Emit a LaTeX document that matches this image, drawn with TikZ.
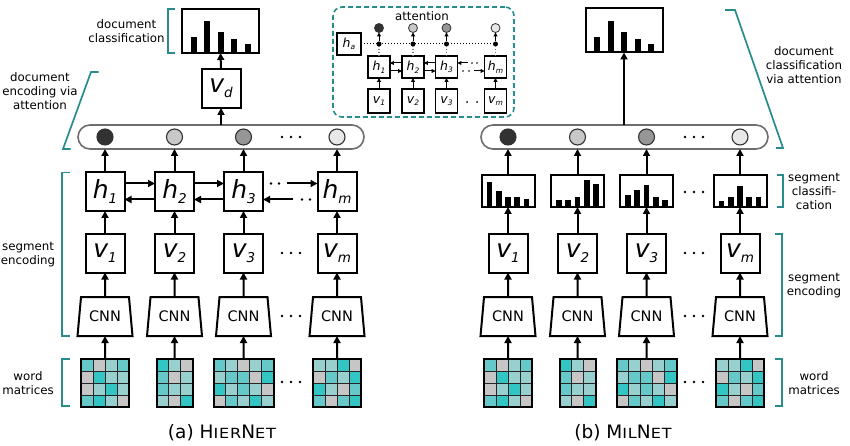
\documentclass[tikz,border=0pt]{standalone}
\usepackage{fontspec}
\setmainfont{DejaVu Sans}
\newfontfamily\capfont[FakeStretch=1.15,LetterSpace=6]{DejaVu Sans}
\usetikzlibrary{arrows.meta,shapes.geometric,calc}

\definecolor{tealB}{RGB}{40,140,140}
\definecolor{wT}{RGB}{51,196,196}
\definecolor{wM}{RGB}{102,200,200}
\definecolor{wL}{RGB}{152,208,208}
\definecolor{wG}{RGB}{198,198,198}
\definecolor{cDark}{RGB}{50,50,50}
\definecolor{cLight}{RGB}{200,200,200}
\definecolor{cMid}{RGB}{150,150,150}
\definecolor{cVLight}{RGB}{232,232,232}
\definecolor{pillgray}{RGB}{110,110,110}

\newcommand\hvlab[2]{{\fontsize{25}{25}\selectfont\itshape #1}\raisebox{-5pt}{\fontsize{13.5}{13.5}\selectfont\itshape #2}}
\newcommand\smlab[2]{{\fontsize{12.5}{12.5}\selectfont\itshape #1}\raisebox{-2.6pt}{\fontsize{7.5}{7.5}\selectfont\itshape #2}}
\newcommand\capsc[1]{{\capfont\fontsize{14}{14}\selectfont #1}}

\tikzset{
  every node/.style={inner sep=0pt, outer sep=0pt},
  bx/.style={draw, line width=2pt, fill=white, minimum width=39pt, minimum height=39pt},
  cnnbox/.style={draw, line width=2pt, fill=white, trapezium, trapezium stretches=true,
     trapezium left angle=78, trapezium right angle=78, minimum width=55pt, minimum height=39pt,
     font=\fontsize{14.5}{14.5}\selectfont},
  hist/.style={draw, line width=2pt, fill=white, minimum width=77pt, minimum height=44pt},
  seg/.style={draw, line width=2pt, fill=white, minimum width=53pt, minimum height=32pt},
  pill/.style={draw=pillgray, line width=1.6pt, fill=white, rounded corners=12pt, minimum height=24pt},
  circ/.style={circle, draw=black!80, line width=1.1pt, minimum size=16pt},
  arr/.style={line width=2pt, -{Triangle[length=7pt,width=7pt]}},
  brk/.style={draw=tealB, line width=1.7pt},
  lab/.style={align=center, font=\fontsize{11.8}{14}\selectfont},
  sbx/.style={draw, line width=1.3pt, fill=white, minimum width=22pt, minimum height=22pt},
  sarr/.style={line width=1pt, -{Triangle[length=3.8pt,width=3.8pt]}},
  scirc/.style={circle, draw=black!80, line width=0.8pt, minimum size=9pt},
  sdot/.style={circle, fill=black, minimum size=5pt},
}

% word matrix: name, centre x, number of columns, colours (row-major)
\newcommand\wordmat[4]{%
  \pgfmathsetmacro\wmleft{#2-#3*6}
  \foreach \c [count=\i from 0] in {#4}{
    \pgfmathtruncatemacro\wcol{mod(\i,#3)}
    \pgfmathtruncatemacro\wrow{int(\i/#3)}
    \filldraw[fill=\c, draw=black!85, line width=1pt] (\wmleft+\wcol*12, 359+\wrow*12) rectangle ++(12,12);
  }
  \node[draw, line width=2pt, minimum width=#3*12pt, minimum height=48pt] (#1) at (#2,383) {};
}
% bars: node, spacing, width, heights
\newcommand\bars[4]{%
  \foreach \hh [count=\k from -2] in {#4}
    \fill ($(#1.south)+(\k*#2-#3/2,-0.9)$) rectangle ++(#3,-\hh);
}
\newcommand\threedots[2]{\foreach \dx in {-9,0,9} \fill (#1+\dx,#2) circle (1.4);}

\begin{document}
\begin{tikzpicture}[x=1pt,y=-1pt]
\useasboundingbox (0,0) rectangle (850,446);

% ================= LEFT: HierNet =================
\node[pill, minimum width=286pt] (pillL) at (221,137) {};
\foreach \n/\x/\cc in {1/105/cDark,2/174.5/cLight,3/243.5/cMid,m/337/cVLight}{
  \node[bx] (h\n) at (\x,191.5) {\hvlab{h}{\n}};
  \node[bx] (v\n) at (\x,253) {\hvlab{v}{\n}};
  \node[cnnbox] (c\n) at (\x,316.5) {CNN};
  \node[circ, fill=\cc] (a\n) at (\x,137) {};
}
\wordmat{w1}{105}{4}{wM,wG,wL,wM, wG,wT,wL,wL, wG,wL,wT,wL, wM,wT,wL,wG}
\wordmat{w2}{174.5}{3}{wT,wL,wG, wM,wG,wL, wM,wL,wL, wL,wG,wT}
\wordmat{w3}{243.5}{5}{wM,wL,wG,wL,wM, wL,wM,wM,wG,wT, wT,wL,wM,wL,wG, wG,wM,wL,wT,wL}
\wordmat{wm}{337}{4}{wL,wL,wT,wG, wG,wM,wL,wT, wT,wL,wG,wM, wM,wG,wM,wT}

\foreach \n in {1,2,3,m}{
  \draw[arr] (w\n.north) -- (c\n.south);
  \draw[arr] (c\n.north) -- (v\n.south);
  \draw[arr] (v\n.north) -- (h\n.south);
  \draw[arr] (h\n.north) -- (h\n.north |- pillL.south);
}
\foreach \a/\b in {1/2,2/3}{
  \draw[arr] ([yshift=8pt]h\a.east) -- ([yshift=8pt]h\b.west);
  \draw[arr] ([yshift=-8pt]h\b.west) -- ([yshift=-8pt]h\a.east);
}
\coordinate (hu) at (287,183.5);
\coordinate (hl) at (293,199.5);
\draw[arr] (hu) -- (hm.west |- hu);
\draw[arr] (hl) -- (h3.east |- hl);
\fill (271,183.5) circle (1.3) (279,183.5) circle (1.3);
\fill (302,199.5) circle (1.3) (310,199.5) circle (1.3);

\threedots{291}{137}
\threedots{291}{253}
\threedots{291}{316}
\threedots{291}{382}

\node[bx] (vd) at (221,88.5) {\hvlab{v}{d}};
\node[hist] (hL) at (220.5,31) {};
\bars{hL}{13.5}{6}{15,31,20,13,8}
\draw[arr] (vd.south |- pillL.north) -- (vd.south);
\draw[arr] (vd.north) -- (hL.south);

% brackets and labels left
\draw[brk] (175,9) -- (168,9) -- (168,53) -- (175,53);
\draw[brk] (98.5,72) -- (91,72) -- (63,149) -- (70.5,149);
\draw[brk] (70,172.5) -- (62,172.5) -- (62,336) -- (70,336);
\draw[brk] (70,359) -- (62,359) -- (62,406) -- (70,406);
\node[lab] (l1) at (126.5,31) {document\\classification};
\node[lab] (l2) at (40,91) {document\\encoding via\\attention};
\node[lab] (l3) at (28,254.5) {segment\\encoding};
\node[lab] (l4) at (28,383) {word\\matrices};

% ================= attention inset =================
\node[draw=tealB, line width=1.6pt, dash pattern=on 5pt off 3pt, rounded corners=9pt,
      minimum width=181pt, minimum height=110pt] (att) at (423.5,62) {};
\node[lab] (attl) at (422,16) {attention};
\node[sbx, minimum width=24pt] (ha) at (349,44) {\smlab{h}{a}};
\foreach \n/\x/\cc in {1/379/cDark,2/413/cLight,3/446.5/cMid,m/495.5/cVLight}{
  \node[sbx] (ih\n) at (\x,67) {\smlab{h}{\n}};
  \node[sbx, minimum height=24pt] (iv\n) at (\x,101) {\smlab{v}{\n}};
  \node[sdot] (id\n) at (\x,44) {};
  \node[scirc, fill=\cc] (ic\n) at (\x,28) {};
}
\draw[dotted, line width=1pt] (ha.east) -- (idm);
\foreach \n in {1,2,3,m}{
  \draw[sarr] (iv\n.north) -- (ih\n.south);
  \draw[black!55, dotted, line width=1.1pt] (ih\n.north) -- (id\n);
  \draw[sarr] (id\n) -- (ic\n.south);
}
\foreach \a/\b in {1/2,2/3}{
  \draw[sarr] ([yshift=4pt]ih\b.west) -- ([yshift=4pt]ih\a.east);
  \draw[sarr] ([yshift=-4pt]ih\a.east) -- ([yshift=-4pt]ih\b.west);
}
\coordinate (iu) at (468,63);
\coordinate (il) at (474,71);
\draw[sarr] (iu) -- (ih3.east |- iu);
\draw[sarr] (il) -- (ihm.west |- il);
\fill (472,63) circle (0.8) (477,63) circle (0.8);
\fill (463,71) circle (0.8) (469,71) circle (0.8);
\fill (467,102) circle (1) (477,102) circle (1);

% ================= RIGHT: MilNet =================
\node[pill, minimum width=287pt] (pillR) at (624.5,137) {};
\foreach \n/\x/\cc in {1/508/cDark,2/577.5/cLight,3/646.5/cMid,m/740/cVLight}{
  \node[bx] (rv\n) at (\x,253) {\hvlab{v}{\n}};
  \node[cnnbox] (rc\n) at (\x,316.5) {CNN};
  \node[seg] (rs\n) at (\x,191) {};
  \node[circ, fill=\cc] (ra\n) at (\x,137) {};
}
\bars{rs1}{9.25}{5.8}{24,15,9,9,7}
\bars{rs2}{9.25}{5.8}{6,6,9,26,22}
\bars{rs3}{9.25}{5.8}{11,16,21,9,6}
\bars{rsm}{9.25}{5.8}{5,9,20,9,9}
\wordmat{rw1}{508}{4}{wM,wG,wL,wM, wG,wT,wL,wL, wG,wL,wT,wL, wM,wT,wL,wG}
\wordmat{rw2}{577.5}{3}{wT,wL,wG, wM,wG,wL, wM,wL,wL, wL,wG,wT}
\wordmat{rw3}{646.5}{5}{wM,wL,wG,wL,wM, wL,wM,wM,wG,wT, wT,wL,wM,wL,wG, wG,wM,wL,wT,wL}
\wordmat{rwm}{740}{4}{wL,wL,wT,wG, wG,wM,wL,wT, wT,wL,wG,wM, wM,wG,wM,wT}
\foreach \n in {1,2,3,m}{
  \draw[arr] (rw\n.north) -- (rc\n.south);
  \draw[arr] (rc\n.north) -- (rv\n.south);
  \draw[arr] (rv\n.north) -- (rs\n.south);
  \draw[arr] (rs\n.north) -- (rs\n.north |- pillR.south);
}
\threedots{694}{137}
\threedots{694}{192}
\threedots{694}{253}
\threedots{694}{316}
\threedots{694}{382}

\node[hist] (hR) at (624,30.5) {};
\bars{hR}{13.5}{6}{15,31,20,13,8}
\draw[arr] (hR.south |- pillR.north) -- (hR.south);

% brackets and labels right
\draw[brk] (725,10) -- (735,10) -- (783,148) -- (776,148);
\draw[brk] (777,175) -- (783,175) -- (783,207) -- (777,207);
\draw[brk] (775,234) -- (782,234) -- (782,336) -- (775,336);
\draw[brk] (775,359) -- (782,359) -- (782,406) -- (775,406);
\node[lab] (r1) at (804,65) {document\\classification\\via attention};
\node[lab] (r2) at (814,191) {segment\\classifi-\\cation};
\node[lab] (r3) at (814,286) {segment\\encoding};
\node[lab] (r4) at (814,383) {word\\matrices};

% captions
\node[font=\fontsize{18.5}{18.5}\selectfont] (capA) at (222,433) {(a) H\capsc{IER}N\capsc{ET}};
\node[font=\fontsize{18.5}{18.5}\selectfont] (capB) at (623,433) {(b) M\capsc{IL}N\capsc{ET}};
\end{tikzpicture}
\end{document}
